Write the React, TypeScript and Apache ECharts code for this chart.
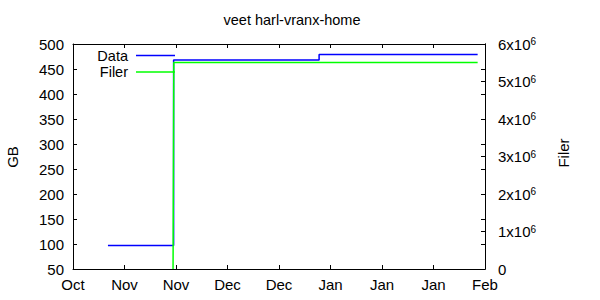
import React, { useEffect, useRef } from "react";
import * as echarts from "echarts";

// Start date of the x axis (day 0) and tick spacing in days
const START_DATE = "2002-10-24";
const X_MAX_DAYS = 112;
const X_TICK_DAYS = 14;
const MONTHS = ["Jan", "Feb", "Mar", "Apr", "May", "Jun", "Jul", "Aug", "Sep", "Oct", "Nov", "Dec"];

// Data (GB) series: day offsets and values
const dataDays = [9.5, 27.35, 66.9, 110];
const dataGB = [97, 468, 479, 479];

// Filer series: day offsets and file counts
const filerDays = [27.2, 27.4, 110];
const filerCount = [0, 5510000, 5510000];

const FONT = "Liberation Sans";

export default function App() {
  const ref = useRef<HTMLDivElement>(null);
  useEffect(() => {
    if (!ref.current) return;
    const chart = echarts.init(ref.current, undefined, { renderer: "svg" });
    const start = new Date(START_DATE + "T00:00:00Z").getTime();
    const monthLabel = (v: number) => MONTHS[new Date(start + v * 86400000).getUTCMonth()];
    const axisLine = { show: true, onZero: false, lineStyle: { color: "#000", width: 1 } };
    const tick = { show: true, inside: true, length: 4, lineStyle: { color: "#000" } };
    const label = { color: "#000", fontFamily: FONT, fontSize: 15 };
    const gridRect = { left: 73, right: 115, top: 44, bottom: 31, containLabel: false };
    const legendBase = {
      orient: "vertical", align: "right", right: 425, padding: 0,
      icon: "rect", itemWidth: 39, itemHeight: 1.5,
      textStyle: { ...label, fontSize: 14.5, lineHeight: 14, padding: [0, 3, 0, 0] },
    };
    chart.setOption({
      animation: false,
      textStyle: { fontFamily: FONT },
      grid: [gridRect, gridRect],
      legend: [
        { ...legendBase, data: ["Data"], top: 48 },
        { ...legendBase, data: ["Filer"], top: 64.5 },
      ],
      graphic: [
        { type: "text", x: 292, y: 20, style: { text: "veet harl-vranx-home", fontFamily: FONT, fontSize: 14.5, fill: "#000", align: "center", verticalAlign: "middle" } },
        { type: "text", x: 12, y: 157, rotation: Math.PI / 2, style: { text: "GB", fontFamily: FONT, fontSize: 15, fill: "#000", align: "center", verticalAlign: "middle" } },
        { type: "text", x: 563, y: 153, rotation: Math.PI / 2, style: { text: "Filer", fontFamily: FONT, fontSize: 15, fill: "#000", align: "center", verticalAlign: "middle" } },
      ],
      xAxis: [
        {
          type: "value", gridIndex: 0, min: 0, max: X_MAX_DAYS, interval: X_TICK_DAYS, position: "bottom",
          axisLine, axisTick: tick, splitLine: { show: false },
          axisLabel: { ...label, margin: 8, formatter: monthLabel },
        },
        {
          type: "value", gridIndex: 0, min: 0, max: X_MAX_DAYS, interval: X_TICK_DAYS, position: "top",
          axisLine, axisTick: tick, splitLine: { show: false }, axisLabel: { show: false },
        },
        {
          type: "value", gridIndex: 1, min: 0, max: X_MAX_DAYS, show: false,
        },
      ],
      yAxis: [
        {
          type: "value", gridIndex: 0, min: 50, max: 500, interval: 50, position: "left",
          axisLine, axisTick: tick, splitLine: { show: false },
          axisLabel: { ...label, margin: 9 },
        },
        {
          type: "value", gridIndex: 0, min: 0, max: 6000000, interval: 1000000, position: "right",
          axisLine, axisTick: tick, splitLine: { show: false },
          axisLabel: {
            ...label, margin: 13, align: "left",
            formatter: (v: number) => (v === 0 ? "0" : `{b|${v / 1000000}x10}{s|6}`),
            rich: {
              b: { fontFamily: FONT, fontSize: 15, color: "#000" },
              s: { fontFamily: FONT, fontSize: 10, color: "#000", verticalAlign: "top" },
            },
          },
        },
        {
          type: "value", gridIndex: 1, min: 50, max: 500, interval: 50, position: "right",
          axisLine, axisTick: tick, splitLine: { show: false }, axisLabel: { show: false },
        },
      ],
      series: [
        {
          name: "Data", type: "line", step: "end", xAxisIndex: 0, yAxisIndex: 0,
          showSymbol: false, symbol: "none",
          lineStyle: { color: "#0000ff", width: 1.5 }, itemStyle: { color: "#0000ff" },
          data: dataDays.map((d, i) => [d, dataGB[i]]),
        },
        {
          name: "Filer", type: "line", xAxisIndex: 0, yAxisIndex: 1,
          showSymbol: false, symbol: "none",
          lineStyle: { color: "#00ff00", width: 1.5 }, itemStyle: { color: "#00ff00" },
          data: filerDays.map((d, i) => [d, filerCount[i]]),
        },
      ],
    });
    return () => chart.dispose();
  }, []);
  return <div ref={ref} style={{ position: "fixed", left: 0, top: 0, width: 600, height: 300, background: "#fff" }} />;
}
